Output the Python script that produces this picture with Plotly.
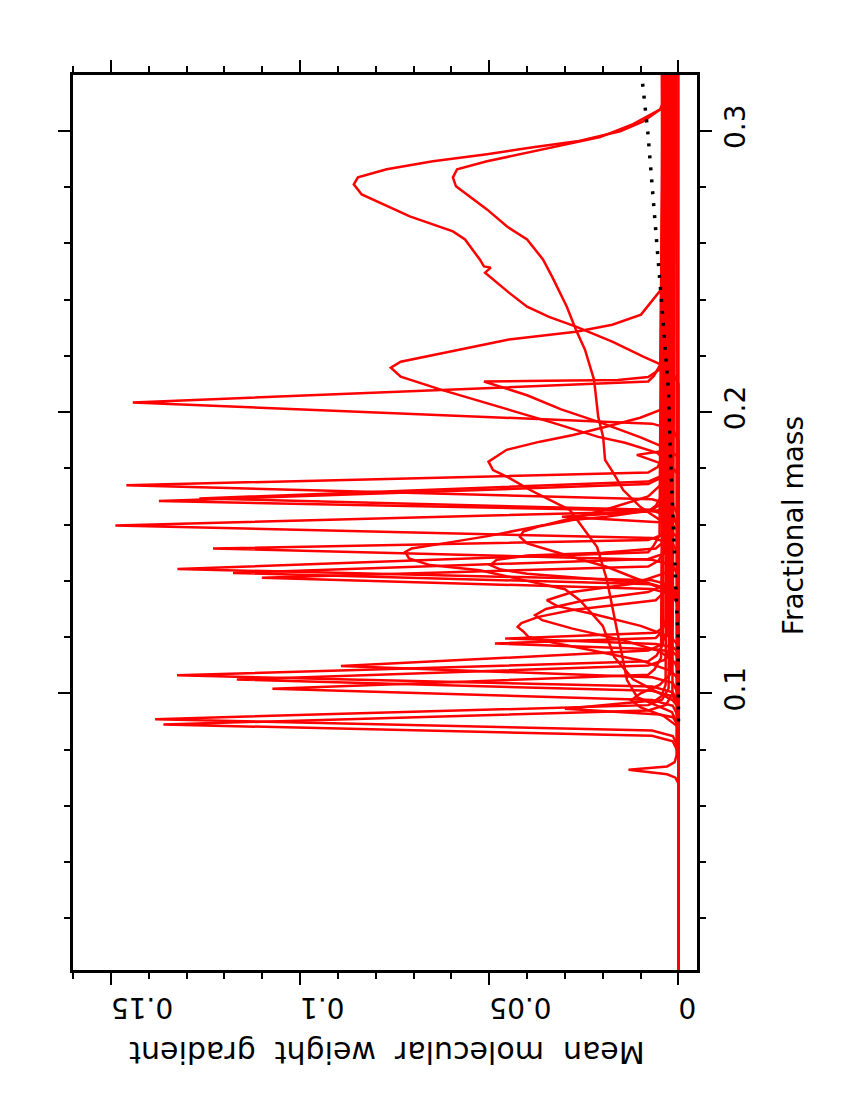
import plotly.graph_objects as go

# Mean molecular weight gradient profiles
# mass_* = fractional mass, grad_* = gradient

# narrow spikes
mass_s1 = [0.0016, 0.1899, 0.1939, 0.1959, 0.2034, 0.2109, 0.2129, 0.2169, 0.3199]
grad_s1 = [0.0, 0.0, 0.0015, 0.007, 0.1442, 0.008, 0.0065, 0.0048, 0.0040]
mass_s2 = [0.0016, 0.1630, 0.1670, 0.1690, 0.1740, 0.1785, 0.1805, 0.1845, 0.3199]
grad_s2 = [0.0, 0.0, 0.0015, 0.007, 0.1459, 0.008, 0.0055, 0.0038, 0.0030]
mass_s3 = [0.0016, 0.1589, 0.1629, 0.1649, 0.1684, 0.1744, 0.1764, 0.1804, 0.3199]
grad_s3 = [0.0, 0.0, 0.0015, 0.007, 0.1373, 0.008, 0.0050, 0.0033, 0.0025]
mass_s3b = [0.0016, 0.1593, 0.1633, 0.1653, 0.1693, 0.1753, 0.1773, 0.1813, 0.3199]
grad_s3b = [0.0, 0.0, 0.0015, 0.007, 0.1266, 0.008, 0.0045, 0.0028, 0.0020]
mass_s4 = [0.0016, 0.1492, 0.1532, 0.1552, 0.1597, 0.1647, 0.1667, 0.1707, 0.3199]
grad_s4 = [0.0, 0.0, 0.0015, 0.007, 0.1488, 0.008, 0.0060, 0.0043, 0.0035]
mass_s5 = [0.0016, 0.1415, 0.1455, 0.1475, 0.1515, 0.1545, 0.1565, 0.1605, 0.3199]
grad_s5 = [0.0, 0.0, 0.0015, 0.007, 0.1230, 0.008, 0.0040, 0.0023, 0.0015]
mass_s6 = [0.0016, 0.1342, 0.1382, 0.1402, 0.1442, 0.1502, 0.1522, 0.1562, 0.3199]
grad_s6 = [0.0, 0.0, 0.0015, 0.007, 0.1324, 0.008, 0.0067, 0.0050, 0.0042]
mass_s7 = [0.0016, 0.1328, 0.1368, 0.1388, 0.1428, 0.1478, 0.1498, 0.1538, 0.3199]
grad_s7 = [0.0, 0.0, 0.0015, 0.007, 0.1177, 0.008, 0.0035, 0.0018, 0.0010]
mass_s8 = [0.0016, 0.1311, 0.1351, 0.1371, 0.1411, 0.1451, 0.1471, 0.1511, 0.3199]
grad_s8 = [0.0, 0.0, 0.0015, 0.007, 0.1101, 0.008, 0.0053, 0.0036, 0.0028]
mass_s9 = [0.0016, 0.0997, 0.1037, 0.1057, 0.1097, 0.1152, 0.1172, 0.1212, 0.3199]
grad_s9 = [0.0, 0.0, 0.0015, 0.007, 0.0892, 0.008, 0.0047, 0.0030, 0.0022]
mass_s10 = [0.0016, 0.0964, 0.1004, 0.1024, 0.1064, 0.1114, 0.1134, 0.1174, 0.3199]
grad_s10 = [0.0, 0.0, 0.0015, 0.007, 0.1325, 0.008, 0.0058, 0.0041, 0.0033]
mass_s11 = [0.0016, 0.0949, 0.0989, 0.1009, 0.1049, 0.1099, 0.1119, 0.1159, 0.3199]
grad_s11 = [0.0, 0.0, 0.0015, 0.007, 0.1167, 0.008, 0.0037, 0.0020, 0.0012]
mass_s12 = [0.0016, 0.0916, 0.0956, 0.0976, 0.1016, 0.1066, 0.1086, 0.1126, 0.3199]
grad_s12 = [0.0, 0.0, 0.0015, 0.007, 0.1073, 0.008, 0.0063, 0.0046, 0.0038]
mass_s13 = [0.0016, 0.0808, 0.0848, 0.0868, 0.0908, 0.0958, 0.0978, 0.1018, 0.3199]
grad_s13 = [0.0, 0.0, 0.0015, 0.007, 0.1383, 0.008, 0.0043, 0.0026, 0.0018]
mass_s14 = [0.0016, 0.0789, 0.0829, 0.0849, 0.0889, 0.0939, 0.0959, 0.0999, 0.3199]
grad_s14 = [0.0, 0.0, 0.0015, 0.007, 0.1361, 0.008, 0.0033, 0.0016, 0.0008]
mass_s15 = [0.0016, 0.0885, 0.0915, 0.0925, 0.0945, 0.0975, 0.0990, 0.1030, 0.3199]
grad_s15 = [0.0, 0.0, 0.0015, 0.005, 0.0300, 0.006, 0.0045, 0.0034, 0.0026]
mass_s16 = [0.0016, 0.0680, 0.0700, 0.0712, 0.0728, 0.0740, 0.0755, 0.0780, 0.3199]
grad_s16 = [0.0, 0.0, 0.0008, 0.0030, 0.0132, 0.0030, 0.0010, 0.0005, 0.0005]
mass_s17 = [0.0016, 0.1578, 0.1598, 0.1608, 0.1628, 0.1648, 0.1663, 0.1700, 0.3199]
grad_s17 = [0.0, 0.0, 0.0015, 0.005, 0.0308, 0.006, 0.0035, 0.0024, 0.0017]
mass_s18 = [0.0016, 0.1145, 0.1165, 0.1175, 0.1195, 0.1215, 0.1235, 0.1275, 0.3199]
grad_s18 = [0.0, 0.0, 0.0015, 0.006, 0.0458, 0.006, 0.0040, 0.0029, 0.0021]
mass_s19 = [0.0016, 0.1127, 0.1147, 0.1157, 0.1177, 0.1197, 0.1217, 0.1257, 0.3199]
grad_s19 = [0.0, 0.0, 0.0015, 0.006, 0.0485, 0.006, 0.0045, 0.0034, 0.0027]

# broad profiles
mass_a = [0.0016, 0.2100, 0.2140, 0.2169, 0.2197, 0.2251, 0.2304, 0.2339, 0.2375,
          0.2425, 0.2496, 0.2514, 0.2518, 0.2543, 0.2614, 0.2643, 0.2696, 0.2746,
          0.2774, 0.2810, 0.2835, 0.2864, 0.2892, 0.2917, 0.2942, 0.2963, 0.2999,
          0.3034, 0.3077, 0.3110, 0.3199]
grad_a = [0.0, 0.0, 0.0015, 0.0046, 0.0093, 0.0175, 0.0271, 0.0342, 0.0400,
          0.0448, 0.0511, 0.0496, 0.0514, 0.0525, 0.0564, 0.0596, 0.0710, 0.0789,
          0.0837, 0.0858, 0.0847, 0.0771, 0.0649, 0.0506, 0.0384, 0.0268, 0.0154,
          0.0093, 0.0048, 0.0035, 0.0030]
mass_b = [0.0016, 0.1550, 0.1580, 0.1616, 0.1663, 0.1723, 0.1784, 0.1830, 0.1912,
          0.1983, 0.2115, 0.2222, 0.2293, 0.2375, 0.2482, 0.2543, 0.2614, 0.2660,
          0.2721, 0.2774, 0.2803, 0.2835, 0.2864, 0.2892, 0.2928, 0.2978, 0.3024,
          0.3077, 0.3110, 0.3199]
grad_b = [0.0, 0.0, 0.0022, 0.0048, 0.0101, 0.0146, 0.0172, 0.0194, 0.0199,
          0.0212, 0.0223, 0.0247, 0.0271, 0.0295, 0.0334, 0.0358, 0.0400, 0.0453,
          0.0506, 0.0559, 0.0588, 0.0596, 0.0585, 0.0506, 0.0384, 0.0207, 0.0120,
          0.0048, 0.0038, 0.0034]
mass_c = [0.0016, 0.1780, 0.1819, 0.1855, 0.1891, 0.1912, 0.1962, 0.2008, 0.2080,
          0.2126, 0.2158, 0.2179, 0.2211, 0.2258, 0.2286, 0.2311, 0.2347, 0.2436,
          0.2496, 0.2600, 0.3199]
grad_c = [0.0, 0.0, 0.0027, 0.0056, 0.0141, 0.0212, 0.0331, 0.0448, 0.0628,
          0.0734, 0.0760, 0.0734, 0.0615, 0.0448, 0.0271, 0.0175, 0.0099, 0.0046,
          0.0032, 0.0028, 0.0025]
mass_d = [0.0016, 0.1840, 0.1870, 0.1910, 0.1960, 0.2010, 0.2060, 0.2095, 0.2109,
          0.2112, 0.2114, 0.2125, 0.2160, 0.3199]
grad_d = [0.0, 0.0, 0.0030, 0.0100, 0.0200, 0.0310, 0.0400, 0.0480, 0.0514,
          0.0350, 0.0160, 0.0080, 0.0040, 0.0036]
mass_e = [0.0016, 0.0880, 0.0933, 0.0958, 0.0986, 0.1047, 0.1164, 0.1285, 0.1403,
          0.1520, 0.1652, 0.1688, 0.1723, 0.1771, 0.1794, 0.1824, 0.1866, 0.1895,
          0.1919, 0.1949, 0.1980, 0.2008, 0.2050, 0.3199]
grad_e = [0.0, 0.0, 0.0017, 0.0062, 0.0109, 0.0136, 0.0154, 0.0172, 0.0189,
          0.0215, 0.0287, 0.0340, 0.0392, 0.0454, 0.0490, 0.0502, 0.0454, 0.0366,
          0.0278, 0.0189, 0.0101, 0.0048, 0.0030, 0.0024]
mass_f = [0.0016, 0.0950, 0.0975, 0.1000, 0.1050, 0.1130, 0.1240, 0.1330, 0.1370,
          0.1400, 0.1438, 0.1456, 0.1480, 0.1503, 0.1515, 0.1527, 0.1560, 0.1600,
          0.1650, 0.1700, 0.1750, 0.3199]
grad_f = [0.0, 0.0, 0.0015, 0.0050, 0.0120, 0.0170, 0.0200, 0.0260, 0.0300,
          0.0400, 0.0525, 0.0657, 0.0712, 0.0722, 0.0705, 0.0649, 0.0500, 0.0350,
          0.0200, 0.0080, 0.0040, 0.0030]
mass_g = [0.0016, 0.1310, 0.1340, 0.1378, 0.1402, 0.1450, 0.1485, 0.1509, 0.1533,
          0.1557, 0.1575, 0.1593, 0.1616, 0.1628, 0.1652, 0.1680, 0.3199]
grad_g = [0.0, 0.0, 0.0010, 0.0050, 0.0100, 0.0190, 0.0280, 0.0340, 0.0400,
          0.0419, 0.0410, 0.0370, 0.0280, 0.0190, 0.0070, 0.0040, 0.0044]
mass_h = [0.0016, 0.1330, 0.1360, 0.1391, 0.1402, 0.1414, 0.1425, 0.1440, 0.1456,
          0.1475, 0.1490, 0.1500, 0.1515, 0.1550, 0.3199]
grad_h = [0.0, 0.0, 0.0020, 0.0080, 0.0180, 0.0300, 0.0400, 0.0470, 0.0497,
          0.0480, 0.0400, 0.0200, 0.0060, 0.0030, 0.0013]
mass_i = [0.0016, 0.1050, 0.1080, 0.1117, 0.1153, 0.1177, 0.1200, 0.1220, 0.1236,
          0.1250, 0.1272, 0.1296, 0.1331, 0.1370, 0.3199]
grad_i = [0.0, 0.0, 0.0020, 0.0100, 0.0230, 0.0320, 0.0396, 0.0410, 0.0425,
          0.0415, 0.0370, 0.0280, 0.0060, 0.0030, 0.0031]
mass_j = [0.0016, 0.1080, 0.1110, 0.1150, 0.1190, 0.1230, 0.1260, 0.1278, 0.1300,
          0.1330, 0.1360, 0.1390, 0.3199]
grad_j = [0.0, 0.0, 0.0010, 0.0050, 0.0150, 0.0280, 0.0360, 0.0379, 0.0350,
          0.0250, 0.0080, 0.0030, 0.0021]
mass_k = [0.0016, 0.1170, 0.1200, 0.1240, 0.1280, 0.1310, 0.1331, 0.1360, 0.1390,
          0.1430, 0.3199]
grad_k = [0.0, 0.0, 0.0020, 0.0100, 0.0220, 0.0320, 0.0348, 0.0280, 0.0120,
          0.0030, 0.0039]
mass_l = [0.0016, 0.0880, 0.0920, 0.0950, 0.0975, 0.1000, 0.1030, 0.1070, 0.3199]
grad_l = [0.0, 0.0, 0.0040, 0.0100, 0.0125, 0.0100, 0.0050, 0.0020, 0.0009]
mass_m = [0.0016, 0.1780, 0.1810, 0.1835, 0.1848, 0.1860, 0.1900, 0.3199]
grad_m = [0.0, 0.0, 0.0030, 0.0080, 0.0110, 0.0050, 0.0030, 0.0027]
mass_z = [0.0016, 0.3199]
grad_z = [0.0, 0.0]

# dotted black profile
mass_dot = [0.0900, 0.1200, 0.1284, 0.1509, 0.1676, 0.1877, 0.2068, 0.2198, 0.2398,
            0.2596, 0.2795, 0.2996, 0.3184, 0.3199]
grad_dot = [0.0, 0.0001, 0.0004, 0.0011, 0.0017, 0.0022, 0.0026, 0.0033, 0.0045,
            0.0057, 0.0069, 0.0081, 0.0096, 0.0098]

red_curves = [
    (mass_z, grad_z), (mass_s1, grad_s1), (mass_s2, grad_s2), (mass_s3, grad_s3),
    (mass_s3b, grad_s3b), (mass_s4, grad_s4), (mass_s5, grad_s5), (mass_s6, grad_s6),
    (mass_s7, grad_s7), (mass_s8, grad_s8), (mass_s9, grad_s9), (mass_s10, grad_s10),
    (mass_s11, grad_s11), (mass_s12, grad_s12), (mass_s13, grad_s13), (mass_s14, grad_s14),
    (mass_s15, grad_s15), (mass_s16, grad_s16), (mass_s17, grad_s17), (mass_s18, grad_s18),
    (mass_s19, grad_s19), (mass_a, grad_a), (mass_b, grad_b), (mass_c, grad_c),
    (mass_d, grad_d), (mass_e, grad_e), (mass_f, grad_f), (mass_g, grad_g),
    (mass_h, grad_h), (mass_i, grad_i), (mass_j, grad_j), (mass_k, grad_k),
    (mass_l, grad_l), (mass_m, grad_m),
]

fig = go.Figure()

# plot is drawn rotated: gradient runs right-to-left, mass runs upward
for m, g in red_curves:
    fig.add_trace(go.Scatter(x=g, y=m, mode='lines',
                             line=dict(color='#ff0000', width=2.5),
                             hoverinfo='skip', showlegend=False))

fig.add_trace(go.Scatter(x=grad_dot, y=mass_dot, mode='lines',
                         line=dict(color='black', width=3.5, dash='3px,9px'),
                         hoverinfo='skip', showlegend=False))

# page body adds 8px, so margins are shifted by that much
fig.update_layout(
    width=850, height=1100,
    margin=dict(l=65, r=161, t=67, b=138),
    plot_bgcolor='white', paper_bgcolor='white',
    font=dict(family='DejaVu Sans', size=28, color='black'),
    showlegend=False,
)

fig.update_xaxes(
    range=[0.16, -0.0049], tick0=0, dtick=0.05,
    ticks='outside', ticklen=12, tickwidth=2, tickcolor='black',
    tickangle=180, tickfont=dict(size=28), ticklabelstandoff=8,
    showline=True, linewidth=2.5, linecolor='black', mirror='ticks',
    showgrid=False, zeroline=False,
    minor=dict(tick0=0, dtick=0.01, ticks='outside', ticklen=6,
               tickwidth=2, tickcolor='black'),
)

fig.update_yaxes(
    range=[0.0016, 0.3199], side='right', tick0=0, dtick=0.1,
    ticks='outside', ticklen=12, tickwidth=2, tickcolor='black',
    tickangle=-90, tickfont=dict(size=28),
    showline=True, linewidth=2.5, linecolor='black', mirror='ticks',
    showgrid=False, zeroline=False,
    minor=dict(tick0=0, dtick=0.02, ticks='outside', ticklen=6,
               tickwidth=2, tickcolor='black'),
)

# axis titles, rotated like the rest of the page
fig.add_annotation(text='Fractional mass', xref='paper', yref='paper',
                   x=1.154, y=0.496, showarrow=False, textangle=-90,
                   font=dict(size=28), xanchor='center', yanchor='middle')
fig.add_annotation(text='Mean\u00a0 molecular\u00a0 weight\u00a0 gradient',
                   xref='paper', yref='paper', x=0.503, y=-0.092,
                   showarrow=False, textangle=180, font=dict(size=30),
                   xanchor='center', yanchor='middle')

fig.write_html("out.html")
